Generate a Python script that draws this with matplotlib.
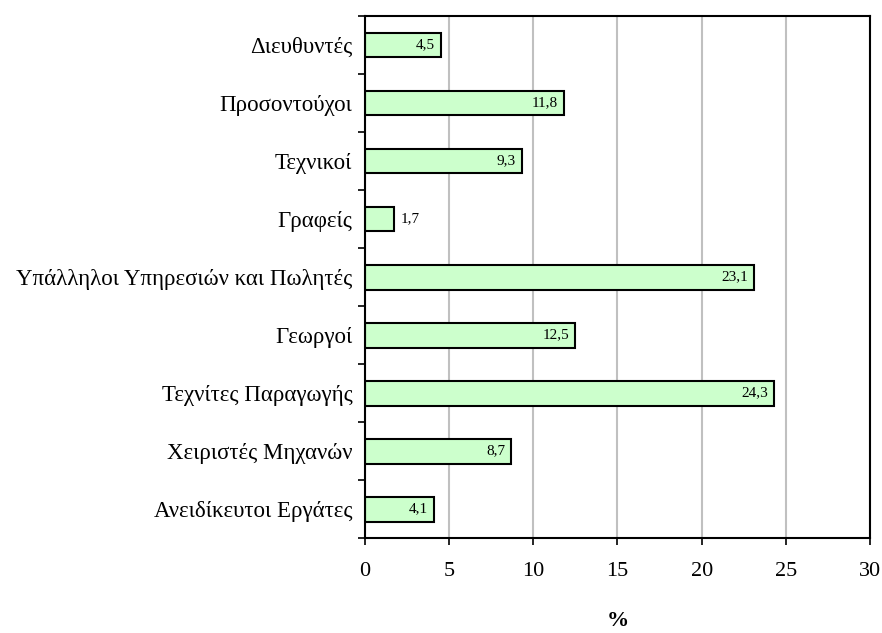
import matplotlib.pyplot as plt
import numpy as np

categories = ['Διευθυντές', 'Προσοντούχοι', 'Τεχνικοί', 'Γραφείς',
              'Υπάλληλοι Υπηρεσιών και Πωλητές', 'Γεωργοί',
              'Τεχνίτες Παραγωγής', 'Χειριστές Μηχανών', 'Ανειδίκευτοι Εργάτες']
values = [4.5, 11.8, 9.3, 1.7, 23.1, 12.5, 24.3, 8.7, 4.1]
xticks = [0, 5, 10, 15, 20, 25, 30]

plt.rcParams['font.family'] = ['Liberation Serif', 'DejaVu Serif']

fig = plt.figure(figsize=(8.82, 6.33), dpi=100)
ax = fig.add_axes([0.4138, 0.150, 0.5726, 0.8247])

n = len(categories)
y = np.arange(n)[::-1]
ax.barh(y, values, height=0.43, color='#CCFFCC', edgecolor='black', linewidth=1.5, zorder=3)

for yi, v in zip(y, values):
    txt = f'{v:.1f}'.replace('.', ',')
    if v < 3:
        ax.text(v + 0.45, yi, txt, ha='left', va='center', fontsize=11, zorder=4)
    else:
        ax.text(v - 0.35, yi, txt, ha='right', va='center', fontsize=11, zorder=4)

ax.set_xlim(0, 30)
ax.set_ylim(-0.5, n - 0.5)
ax.set_xticks(xticks)
ax.set_xticklabels([str(t) for t in xticks], fontsize=16)
ax.tick_params(axis='x', direction='out', length=5, width=1.2, pad=12)
ax.xaxis.grid(True, color='#c0c0c0', linewidth=1.5, zorder=0)

# category labels at bar centres, ticks at the boundaries
ax.set_yticks(y)
ax.set_yticklabels(categories, fontsize=16.5)
ax.tick_params(axis='y', which='major', length=0, pad=9)
ax.set_yticks(np.arange(-0.5, n, 1.0), minor=True)
ax.tick_params(axis='y', which='minor', direction='out', length=5, width=1.2)

for s in ax.spines.values():
    s.set_linewidth(1.5)
    s.set_zorder(5)

ax.set_xlabel('%', fontsize=16, fontweight='bold', labelpad=22)

fig.savefig('out.png', dpi=100)
